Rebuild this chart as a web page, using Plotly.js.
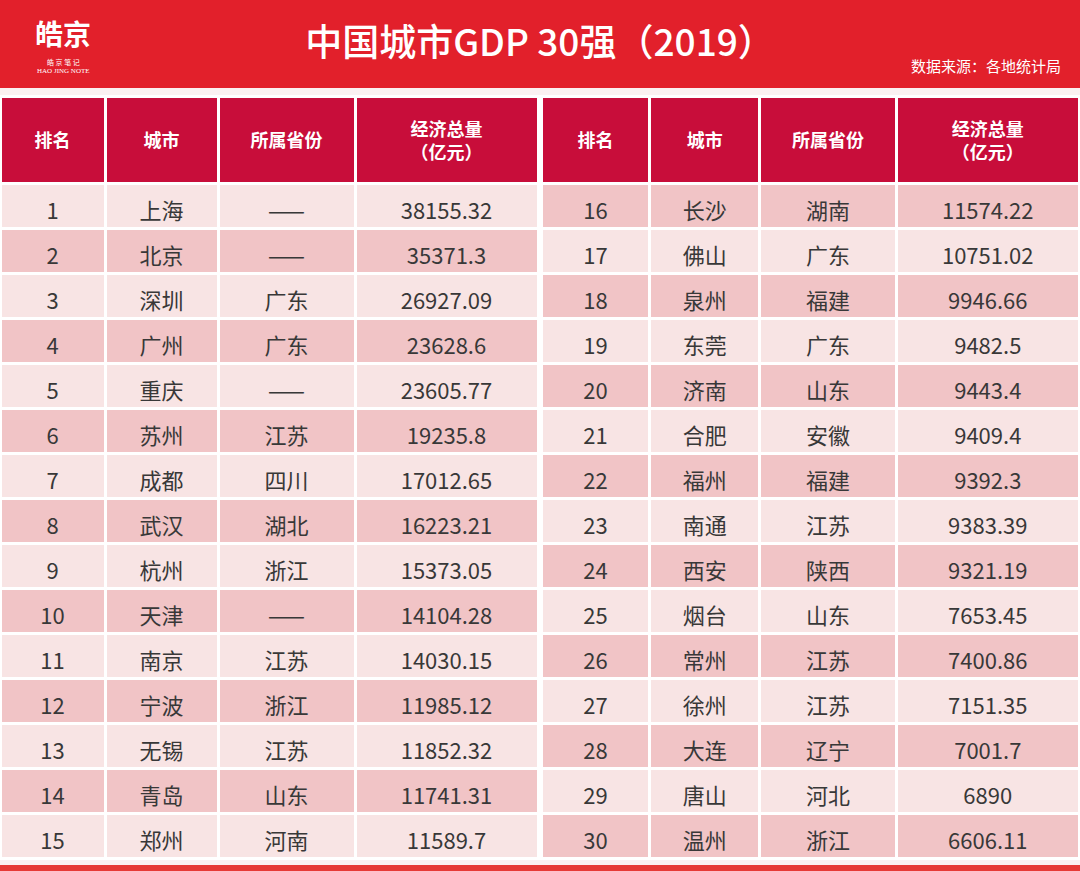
<!DOCTYPE html>
<html>
<head>
<meta charset="utf-8">
<script src="https://cdn.plot.ly/plotly-3.0.1.min.js"></script>
<style>
  html, body { margin: 0; padding: 0; background: #fbf1f1; }
  #plot { width: 1080px; height: 871px; }
</style>
</head>
<body>
<div id="plot"></div>
<script>
// 中国城市GDP 30强 (2019)
var rank = [1, 2, 3, 4, 5, 6, 7, 8, 9, 10, 11, 12, 13, 14, 15,
            16, 17, 18, 19, 20, 21, 22, 23, 24, 25, 26, 27, 28, 29, 30];
var city = ["上海", "北京", "深圳", "广州", "重庆", "苏州", "成都", "武汉", "杭州", "天津",
            "南京", "宁波", "无锡", "青岛", "郑州",
            "长沙", "佛山", "泉州", "东莞", "济南", "合肥", "福州", "南通", "西安", "烟台",
            "常州", "徐州", "大连", "唐山", "温州"];
var province = ["——", "——", "广东", "广东", "——", "江苏", "四川", "湖北", "浙江", "——",
                "江苏", "浙江", "江苏", "山东", "河南",
                "湖南", "广东", "福建", "广东", "山东", "安徽", "福建", "江苏", "陕西", "山东",
                "江苏", "江苏", "辽宁", "河北", "浙江"];
var gdp = ["38155.32", "35371.3", "26927.09", "23628.6", "23605.77", "19235.8", "17012.65",
           "16223.21", "15373.05", "14104.28", "14030.15", "11985.12", "11852.32", "11741.31",
           "11589.7",
           "11574.22", "10751.02", "9946.66", "9482.5", "9443.4", "9409.4", "9392.3", "9383.39",
           "9321.19", "7653.45", "7400.86", "7151.35", "7001.7", "6890", "6606.11"];
var singleHeaders = ["<b>排名</b>", "<b>城市</b>", "<b>所属省份</b>", ""];
var doubleHeaders = ["", "", "", "<b>经济总量</b><br><b>（亿元）</b>"];

var lightRow = "#f8e4e4";
var pinkRow = "#f1c4c6";
var clear = "rgba(0,0,0,0)";
var font = "Noto Sans CJK SC, sans-serif";

var H = 871;
var tableTop = 1 - 96 / H;   // top edge of the tables
var tableBottom = 0.012;
var textShift = 11 / H;      // table text sits at the top of a cell: push it down
var headShift = 22 / H;

function blanks(n) { var a = []; for (var i = 0; i < n; i++) a.push(""); return a; }

function half(start, end, domainX, widths) {
  var n = end - start;
  var cols = [rank.slice(start, end), city.slice(start, end),
              province.slice(start, end), gdp.slice(start, end)];
  var rowColors = rank.slice(start, end).map(function (r) {
    return r % 2 === 0 ? pinkRow : lightRow;
  });
  var empty = [blanks(n), blanks(n), blanks(n), blanks(n)];

  // fills only
  var back = {
    type: "table",
    domain: { x: domainX, y: [tableBottom, tableTop] },
    columnwidth: widths,
    header: {
      values: ["", "", "", ""], height: 87,
      fill: { color: "#c80d3a" },
      line: { color: "#ffffff", width: 3 }
    },
    cells: {
      values: empty, height: 45,
      fill: { color: [rowColors, rowColors, rowColors, rowColors] },
      line: { color: "#ffffff", width: 3 }
    }
  };

  // data text and two-line header
  var text = {
    type: "table",
    domain: { x: domainX, y: [0.001, tableTop - textShift] },
    columnwidth: widths,
    header: {
      values: doubleHeaders, align: "center", height: 87,
      fill: { color: clear },
      line: { color: clear, width: 3 },
      font: { family: font, size: 18, color: "#ffffff" }
    },
    cells: {
      values: cols, align: "center", height: 45,
      fill: { color: clear },
      line: { color: clear, width: 3 },
      font: { family: font, size: 22, color: "#383838" }
    }
  };

  // one-line header labels
  var head = {
    type: "table",
    domain: { x: domainX, y: [0.5, tableTop - headShift] },
    columnwidth: widths,
    header: {
      values: singleHeaders, align: "center", height: 40,
      fill: { color: clear },
      line: { color: clear, width: 3 },
      font: { family: font, size: 18, color: "#ffffff" }
    },
    cells: {
      values: [[""], [""], [""], [""]], height: 20,
      fill: { color: clear },
      line: { color: clear, width: 0 }
    }
  };
  return [back, text, head];
}

var traces = half(0, 15, [0, 0.4985], [105, 113, 137, 183])
  .concat(half(15, 30, [0.501, 1], [109, 110, 137, 183]));

var layout = {
  width: 1080,
  height: 871,
  margin: { l: 0, r: 0, t: 0, b: 0 },
  paper_bgcolor: "#fbf1f1",
  showlegend: false,
  title: {
    text: "中国城市GDP 30强（2019）",
    font: { family: font, size: 37, color: "#ffffff", weight: 500 },
    x: 0.5, xanchor: "center", y: 1 - 43 / H, yanchor: "middle"
  },
  shapes: [
    { type: "rect", xref: "paper", yref: "paper", x0: 0, x1: 1, y0: 1 - 88 / H, y1: 1,
      fillcolor: "#e2202b", line: { width: 0 }, layer: "below" },
    { type: "rect", xref: "paper", yref: "paper", x0: 0, x1: 1, y0: 0, y1: 6 / H,
      fillcolor: "#e63a36", line: { width: 0 }, layer: "below" }
  ],
  annotations: [
    { text: "数据来源：各地统计局", xref: "paper", yref: "paper", x: 0.984, y: 1 - 66 / H,
      xanchor: "right", yanchor: "middle", showarrow: false,
      font: { family: font, size: 15, color: "#ffffff" } },
    { text: "<b>皓京</b>", xref: "paper", yref: "paper", x: 63 / 1080, y: 1 - 33 / H,
      xanchor: "center", yanchor: "middle", showarrow: false,
      font: { family: "Noto Sans CJK SC, serif", size: 28, color: "#ffffff" } },
    { text: "皓 京 笔 记", xref: "paper", yref: "paper", x: 63 / 1080, y: 1 - 62 / H,
      xanchor: "center", yanchor: "middle", showarrow: false,
      font: { family: font, size: 7, color: "#ffffff" } },
    { text: "HAO JING NOTE", xref: "paper", yref: "paper", x: 63 / 1080, y: 1 - 71 / H,
      xanchor: "center", yanchor: "middle", showarrow: false,
      font: { family: "Liberation Serif, serif", size: 7, color: "#ffffff" } }
  ]
};

Plotly.newPlot("plot", traces, layout, { displayModeBar: false, staticPlot: true });
</script>
</body>
</html>
